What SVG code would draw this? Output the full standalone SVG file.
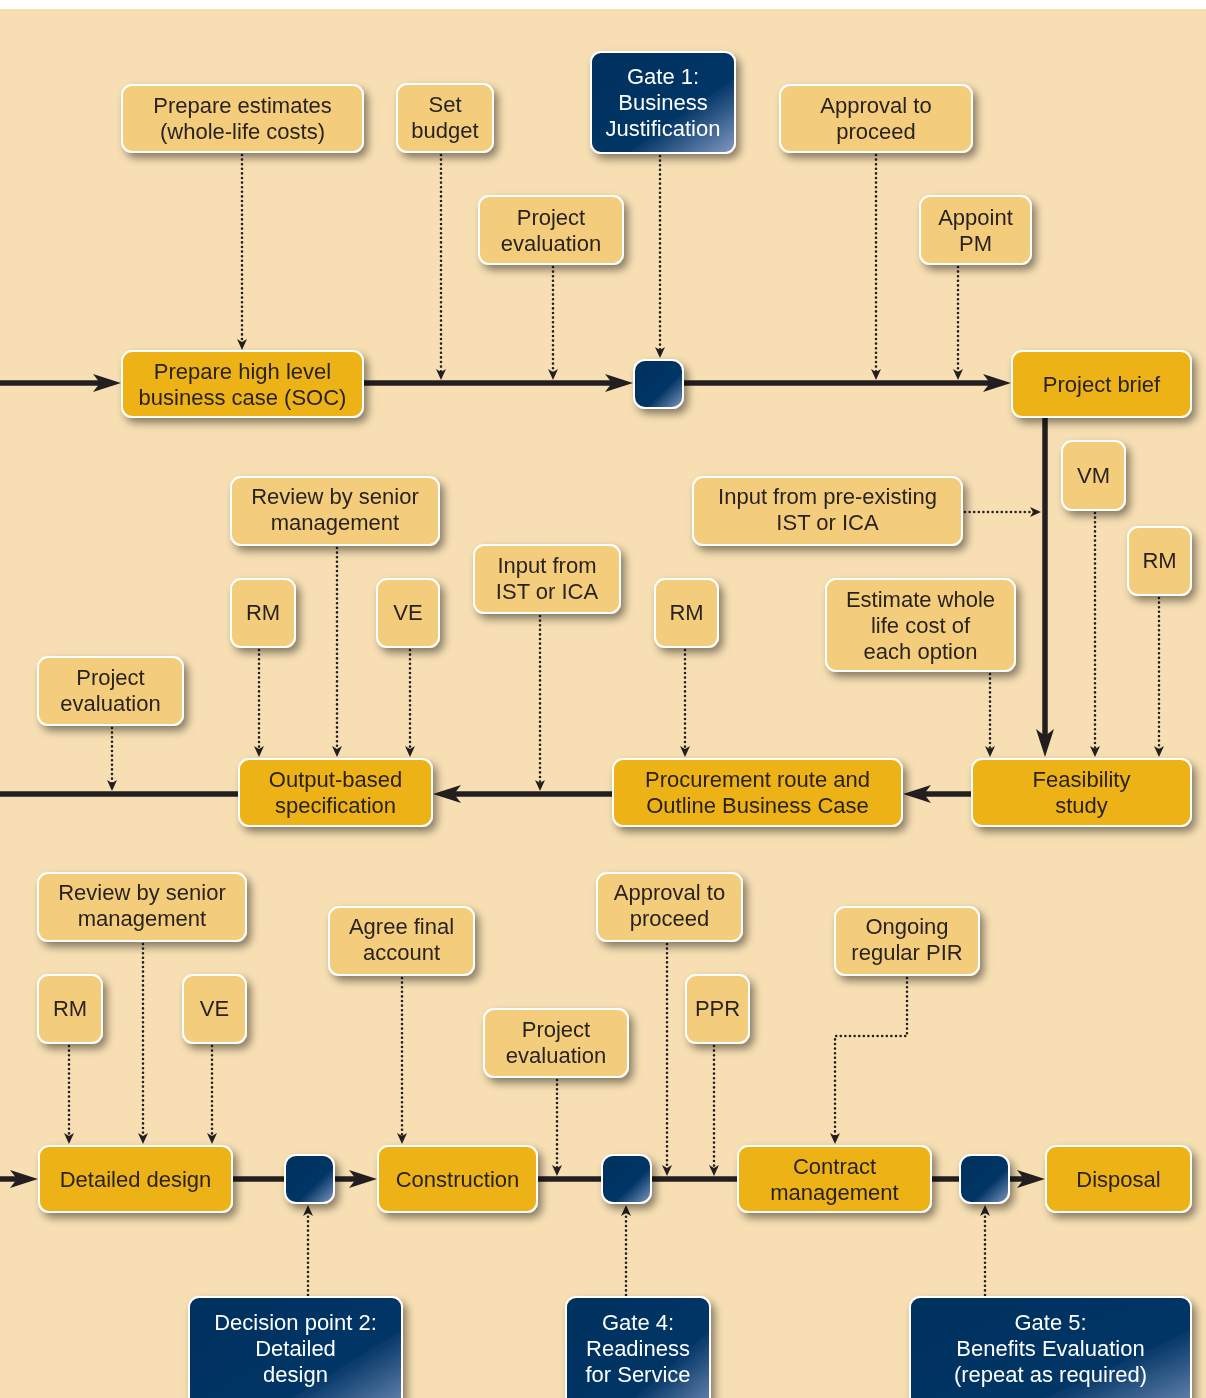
<svg xmlns="http://www.w3.org/2000/svg" width="1206" height="1398" viewBox="0 0 1206 1398">
<style>
.bg{fill:#F7DFB3}
.lt{fill:#F3CD7B;stroke:#FFFFFF;stroke-width:2}
.dk{fill:#EDB215;stroke:#FFFFFF;stroke-width:2}
.nv{fill:url(#navy);stroke:#FFFFFF;stroke-width:2}
.t{font-family:"Liberation Sans","Open Sans",sans-serif;font-size:22px;fill:#2A2420;text-anchor:middle}
.tw{font-family:"Liberation Sans","Open Sans",sans-serif;font-size:22px;fill:#FFFFFF;text-anchor:middle}
.main{fill:none;stroke:#231F20;stroke-width:5.5}
.dot{fill:none;stroke:#231F20;stroke-width:2.6;stroke-linecap:round;stroke-dasharray:0 4.6}
</style>
<defs>
<linearGradient id="navy" x1="0" y1="0" x2="1" y2="1">
<stop offset="0" stop-color="#00305F"/>
<stop offset="0.62" stop-color="#033666"/>
<stop offset="1" stop-color="#8299C2"/>
</linearGradient>
<filter id="sh" x="-20%" y="-20%" width="150%" height="160%">
<feDropShadow dx="4" dy="5" stdDeviation="4" flood-color="#000" flood-opacity="0.45"/>
</filter>
<marker id="big" markerUnits="userSpaceOnUse" markerWidth="28" markerHeight="18" refX="18" refY="9" orient="auto">
<path d="M0,0 L28,9 L0,18 L7,9 z" fill="#231F20"/>
</marker>
<marker id="sm" markerUnits="userSpaceOnUse" markerWidth="11" markerHeight="10" refX="8" refY="5" orient="auto">
<path d="M0,0 L11,5 L0,10 L3,5 z" fill="#231F20"/>
</marker>
</defs>
<rect x="0" y="0" width="1206" height="1398" fill="#FFFFFF"/>
<rect class="bg" x="0" y="9" width="1206" height="1389"/>

<g id="connectors">
<path class="main" d="M0,383 H111" marker-end="url(#big)"/>
<path class="main" d="M363,383 H623" marker-end="url(#big)"/>
<path class="main" d="M683,383 H1001" marker-end="url(#big)"/>
<path class="main" d="M1045,417 V747" marker-end="url(#big)"/>
<path class="main" d="M972,794 H913" marker-end="url(#big)"/>
<path class="main" d="M613,794 H443" marker-end="url(#big)"/>
<path class="main" d="M239,794 H0"/>
<path class="main" d="M0,1179 H28" marker-end="url(#big)"/>
<path class="main" d="M232,1179 H285"/>
<path class="main" d="M334,1179 H367" marker-end="url(#big)"/>
<path class="main" d="M537,1179 H602"/>
<path class="main" d="M651,1179 H738"/>
<path class="main" d="M931,1179 H960"/>
<path class="main" d="M1009,1179 H1035" marker-end="url(#big)"/>

<path class="dot" d="M242,155 V347" marker-end="url(#sm)"/>
<path class="dot" d="M441,155 V377" marker-end="url(#sm)"/>
<path class="dot" d="M553,267 V377" marker-end="url(#sm)"/>
<path class="dot" d="M660,156 V355" marker-end="url(#sm)"/>
<path class="dot" d="M876,155 V377" marker-end="url(#sm)"/>
<path class="dot" d="M958,267 V377" marker-end="url(#sm)"/>

<path class="dot" d="M965,512 H1038" marker-end="url(#sm)"/>
<path class="dot" d="M337,548 V754" marker-end="url(#sm)"/>
<path class="dot" d="M259,650 V754" marker-end="url(#sm)"/>
<path class="dot" d="M410,650 V754" marker-end="url(#sm)"/>
<path class="dot" d="M540,616 V788" marker-end="url(#sm)"/>
<path class="dot" d="M112,728 V788" marker-end="url(#sm)"/>
<path class="dot" d="M685,650 V754" marker-end="url(#sm)"/>
<path class="dot" d="M990,674 V754" marker-end="url(#sm)"/>
<path class="dot" d="M1095,513 V754" marker-end="url(#sm)"/>
<path class="dot" d="M1159,598 V754" marker-end="url(#sm)"/>

<path class="dot" d="M143,944 V1141" marker-end="url(#sm)"/>
<path class="dot" d="M69,1046 V1141" marker-end="url(#sm)"/>
<path class="dot" d="M212,1046 V1141" marker-end="url(#sm)"/>
<path class="dot" d="M402,978 V1141" marker-end="url(#sm)"/>
<path class="dot" d="M557,1080 V1173" marker-end="url(#sm)"/>
<path class="dot" d="M667,944 V1173" marker-end="url(#sm)"/>
<path class="dot" d="M714,1046 V1173" marker-end="url(#sm)"/>
<path class="dot" d="M907,978 V1036 H835 V1141" marker-end="url(#sm)"/>
<path class="dot" d="M308,1295 V1208" marker-end="url(#sm)"/>
<path class="dot" d="M626,1295 V1208" marker-end="url(#sm)"/>
<path class="dot" d="M985,1295 V1208" marker-end="url(#sm)"/>
</g>

<g id="n-estimates" filter="url(#sh)"><rect class="lt" x="122" y="85" width="241" height="67" rx="10"/><text class="t" x="242.5" y="113">Prepare estimates</text><text class="t" x="242.5" y="139">(whole-life costs)</text></g>
<g id="n-budget" filter="url(#sh)"><rect class="lt" x="397" y="84" width="96" height="68" rx="10"/><text class="t" x="445" y="112">Set</text><text class="t" x="445" y="138">budget</text></g>
<g id="n-eval1" filter="url(#sh)"><rect class="lt" x="479" y="196" width="144" height="68" rx="10"/><text class="t" x="551" y="225">Project</text><text class="t" x="551" y="251">evaluation</text></g>
<g id="n-gate1" filter="url(#sh)"><rect class="nv" x="591" y="52" width="144" height="101" rx="10"/><text class="tw" x="663" y="84">Gate 1:</text><text class="tw" x="663" y="110">Business</text><text class="tw" x="663" y="136">Justification</text></g>
<g id="n-approve1" filter="url(#sh)"><rect class="lt" x="780" y="85" width="192" height="67" rx="10"/><text class="t" x="876" y="113">Approval to</text><text class="t" x="876" y="139">proceed</text></g>
<g id="n-pm" filter="url(#sh)"><rect class="lt" x="920" y="196" width="111" height="68" rx="10"/><text class="t" x="975.5" y="225">Appoint</text><text class="t" x="975.5" y="251">PM</text></g>
<g id="n-soc" filter="url(#sh)"><rect class="dk" x="122" y="351" width="241" height="66" rx="10"/><text class="t" x="242.5" y="379">Prepare high level</text><text class="t" x="242.5" y="405">business case (SOC)</text></g>
<g id="n-gate1sq" filter="url(#sh)"><rect class="nv" x="634" y="360" width="49" height="48" rx="11"/></g>
<g id="n-brief" filter="url(#sh)"><rect class="dk" x="1012" y="351" width="179" height="66" rx="10"/><text class="t" x="1101.5" y="392">Project brief</text></g>

<g id="n-feas" filter="url(#sh)"><rect class="dk" x="972" y="759" width="219" height="67" rx="10"/><text class="t" x="1081.5" y="787">Feasibility</text><text class="t" x="1081.5" y="813">study</text></g>
<g id="n-proc" filter="url(#sh)"><rect class="dk" x="613" y="759" width="289" height="67" rx="10"/><text class="t" x="757.5" y="787">Procurement route and</text><text class="t" x="757.5" y="813">Outline Business Case</text></g>
<g id="n-obs" filter="url(#sh)"><rect class="dk" x="239" y="759" width="193" height="67" rx="10"/><text class="t" x="335.5" y="787">Output-based</text><text class="t" x="335.5" y="813">specification</text></g>
<g id="n-review2" filter="url(#sh)"><rect class="lt" x="231" y="477" width="208" height="68" rx="10"/><text class="t" x="335" y="504">Review by senior</text><text class="t" x="335" y="530">management</text></g>
<g id="n-rm2a" filter="url(#sh)"><rect class="lt" x="231" y="579" width="64" height="68" rx="10"/><text class="t" x="263" y="620">RM</text></g>
<g id="n-ve2" filter="url(#sh)"><rect class="lt" x="377" y="579" width="62" height="68" rx="10"/><text class="t" x="408" y="620">VE</text></g>
<g id="n-ist" filter="url(#sh)"><rect class="lt" x="474" y="545" width="146" height="68" rx="10"/><text class="t" x="547" y="573">Input from</text><text class="t" x="547" y="599">IST or ICA</text></g>
<g id="n-eval2" filter="url(#sh)"><rect class="lt" x="38" y="657" width="145" height="68" rx="10"/><text class="t" x="110.5" y="685">Project</text><text class="t" x="110.5" y="711">evaluation</text></g>
<g id="n-rm2b" filter="url(#sh)"><rect class="lt" x="655" y="579" width="63" height="68" rx="10"/><text class="t" x="686.5" y="620">RM</text></g>
<g id="n-preist" filter="url(#sh)"><rect class="lt" x="693" y="477" width="269" height="68" rx="10"/><text class="t" x="827.5" y="504">Input from pre-existing</text><text class="t" x="827.5" y="530">IST or ICA</text></g>
<g id="n-estwl" filter="url(#sh)"><rect class="lt" x="826" y="579" width="189" height="92" rx="10"/><text class="t" x="920.5" y="607">Estimate whole</text><text class="t" x="920.5" y="633">life cost of</text><text class="t" x="920.5" y="659">each option</text></g>
<g id="n-vm" filter="url(#sh)"><rect class="lt" x="1062" y="441" width="63" height="69" rx="10"/><text class="t" x="1093.5" y="483">VM</text></g>
<g id="n-rm2c" filter="url(#sh)"><rect class="lt" x="1128" y="527" width="63" height="68" rx="10"/><text class="t" x="1159.5" y="568">RM</text></g>

<g id="n-dd" filter="url(#sh)"><rect class="dk" x="39" y="1146" width="193" height="66" rx="10"/><text class="t" x="135.5" y="1187">Detailed design</text></g>
<g id="n-dp2sq" filter="url(#sh)"><rect class="nv" x="285" y="1155" width="49" height="48" rx="11"/></g>
<g id="n-cons" filter="url(#sh)"><rect class="dk" x="378" y="1146" width="159" height="66" rx="10"/><text class="t" x="457.5" y="1187">Construction</text></g>
<g id="n-g4sq" filter="url(#sh)"><rect class="nv" x="602" y="1155" width="49" height="48" rx="11"/></g>
<g id="n-cm" filter="url(#sh)"><rect class="dk" x="738" y="1146" width="193" height="66" rx="10"/><text class="t" x="834.5" y="1174">Contract</text><text class="t" x="834.5" y="1200">management</text></g>
<g id="n-g5sq" filter="url(#sh)"><rect class="nv" x="960" y="1155" width="49" height="48" rx="11"/></g>
<g id="n-disp" filter="url(#sh)"><rect class="dk" x="1046" y="1146" width="145" height="66" rx="10"/><text class="t" x="1118.5" y="1187">Disposal</text></g>
<g id="n-review3" filter="url(#sh)"><rect class="lt" x="38" y="873" width="208" height="68" rx="10"/><text class="t" x="142" y="900">Review by senior</text><text class="t" x="142" y="926">management</text></g>
<g id="n-rm3" filter="url(#sh)"><rect class="lt" x="38" y="975" width="64" height="68" rx="10"/><text class="t" x="70" y="1016">RM</text></g>
<g id="n-ve3" filter="url(#sh)"><rect class="lt" x="183" y="975" width="63" height="68" rx="10"/><text class="t" x="214.5" y="1016">VE</text></g>
<g id="n-agree" filter="url(#sh)"><rect class="lt" x="329" y="907" width="145" height="68" rx="10"/><text class="t" x="401.5" y="934">Agree final</text><text class="t" x="401.5" y="960">account</text></g>
<g id="n-eval3" filter="url(#sh)"><rect class="lt" x="484" y="1009" width="144" height="68" rx="10"/><text class="t" x="556" y="1037">Project</text><text class="t" x="556" y="1063">evaluation</text></g>
<g id="n-approve3" filter="url(#sh)"><rect class="lt" x="597" y="873" width="145" height="68" rx="10"/><text class="t" x="669.5" y="900">Approval to</text><text class="t" x="669.5" y="926">proceed</text></g>
<g id="n-ppr" filter="url(#sh)"><rect class="lt" x="686" y="975" width="63" height="68" rx="10"/><text class="t" x="717.5" y="1016">PPR</text></g>
<g id="n-pir" filter="url(#sh)"><rect class="lt" x="835" y="907" width="144" height="68" rx="10"/><text class="t" x="907" y="934">Ongoing</text><text class="t" x="907" y="960">regular PIR</text></g>
<g id="n-dp2" filter="url(#sh)"><rect class="nv" x="189" y="1297" width="213" height="130" rx="10"/><text class="tw" x="295.5" y="1330">Decision point 2:</text><text class="tw" x="295.5" y="1356">Detailed</text><text class="tw" x="295.5" y="1382">design</text></g>
<g id="n-gate4" filter="url(#sh)"><rect class="nv" x="566" y="1297" width="144" height="130" rx="10"/><text class="tw" x="638" y="1330">Gate 4:</text><text class="tw" x="638" y="1356">Readiness</text><text class="tw" x="638" y="1382">for Service</text></g>
<g id="n-gate5" filter="url(#sh)"><rect class="nv" x="910" y="1297" width="281" height="130" rx="10"/><text class="tw" x="1050.5" y="1330">Gate 5:</text><text class="tw" x="1050.5" y="1356">Benefits Evaluation</text><text class="tw" x="1050.5" y="1382">(repeat as required)</text></g>
</svg>
